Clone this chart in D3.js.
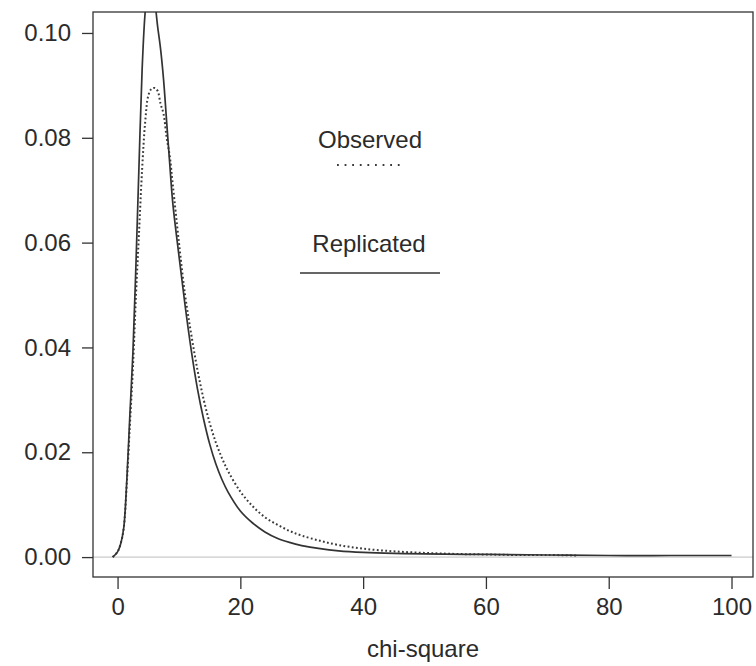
<!DOCTYPE html>
<html>
<head>
<meta charset="utf-8">
<script src="https://cdn.jsdelivr.net/npm/d3@7"></script>
<style>
  html, body { margin: 0; padding: 0; background: #fff; }
  svg { display: block; }
  text { font-family: "Liberation Sans", Arial, sans-serif; fill: #2b2b2b; }
</style>
</head>
<body>
<script>
// ---- data ----
const xTicks = [0, 20, 40, 60, 80, 100];
const yTicks = [0, 0.02, 0.04, 0.06, 0.08, 0.10];
const yTickLabels = ["0.00", "0.02", "0.04", "0.06", "0.08", "0.10"];
const xLabel = "chi-square";
const legendLabels = ["Observed", "Replicated"];

const replicatedX = [-0.8, 0, 0.5, 1, 1.5, 2, 2.5, 3, 3.5, 4, 4.5, 5, 5.5, 6, 6.5, 7, 7.5, 8, 8.5, 9, 10, 11, 12, 13, 14, 15, 16, 17, 18, 20, 22, 24, 26, 28, 30, 33, 36, 40, 45, 50, 60, 70, 80, 90, 100];
const replicatedY = [0, 0.001, 0.0025, 0.0055, 0.0145, 0.027, 0.039, 0.056, 0.075, 0.093, 0.104, 0.109, 0.111, 0.107, 0.1015, 0.097, 0.091, 0.083, 0.075, 0.0675, 0.0575, 0.048, 0.0395, 0.0322, 0.0264, 0.0216, 0.0178, 0.0148, 0.0124, 0.0088, 0.0065, 0.0048, 0.0036, 0.0028, 0.0022, 0.0016, 0.0012, 0.0009, 0.0007, 0.0006, 0.0005, 0.0004, 0.0003, 0.0003, 0.0003];

const observedX = [-0.8, 0, 0.5, 1, 1.5, 2, 2.5, 3, 3.5, 4, 4.5, 5, 5.5, 6, 6.5, 7, 7.5, 8, 8.5, 9, 10, 11, 12, 13, 14, 15, 16, 17, 18, 20, 22, 24, 26, 28, 30, 33, 36, 40, 45, 50, 55, 60, 65, 70, 75];
const observedY = [0, 0.001, 0.0025, 0.0055, 0.014, 0.025, 0.036, 0.050, 0.062, 0.074, 0.083, 0.088, 0.0893, 0.0895, 0.089, 0.0865, 0.0845, 0.080, 0.0765, 0.071, 0.060, 0.050, 0.0425, 0.0358, 0.0302, 0.0256, 0.0219, 0.0189, 0.0164, 0.0125, 0.0097, 0.0076, 0.0062, 0.0050, 0.0041, 0.0031, 0.0023, 0.0016, 0.0011, 0.0008, 0.0006, 0.0005, 0.0004, 0.0004, 0.0003];

// ---- layout ----
const W = 756, H = 666;
const box = { left: 93, right: 753, top: 12, bottom: 577 };

const x = d3.scaleLinear().domain([-4.0, 103.5]).range([box.left, box.right]);
const y = d3.scaleLinear().domain([-0.0038, 0.1040]).range([box.bottom, box.top]);

const svg = d3.select("body").append("svg").attr("width", W).attr("height", H);

svg.append("defs").append("clipPath").attr("id", "plotclip")
  .append("rect")
  .attr("x", box.left).attr("y", box.top)
  .attr("width", box.right - box.left).attr("height", box.bottom - box.top);

// zero reference line
svg.append("line")
  .attr("x1", box.left).attr("x2", box.right)
  .attr("y1", y(0)).attr("y2", y(0))
  .attr("stroke", "#bdbdbd").attr("stroke-width", 1);

const line = d3.line().x(d => x(d[0])).y(d => y(d[1])).curve(d3.curveCatmullRom.alpha(0.5));

const plot = svg.append("g").attr("clip-path", "url(#plotclip)");

plot.append("path")
  .datum(observedX.map((v, i) => [v, observedY[i]]))
  .attr("d", line)
  .attr("fill", "none")
  .attr("stroke", "#3a3a3a")
  .attr("stroke-width", 2)
  .attr("stroke-dasharray", "1.8,2.4");

plot.append("path")
  .datum(replicatedX.map((v, i) => [v, replicatedY[i]]))
  .attr("d", line)
  .attr("fill", "none")
  .attr("stroke", "#333")
  .attr("stroke-width", 1.7);

// box
svg.append("rect")
  .attr("x", box.left).attr("y", box.top)
  .attr("width", box.right - box.left).attr("height", box.bottom - box.top)
  .attr("fill", "none").attr("stroke", "#333").attr("stroke-width", 1.3);

// x axis (R style, ticks below box)
const xAxis = d3.axisBottom(x).tickValues(xTicks).tickSize(12).tickPadding(9).tickFormat(d3.format("d"));
const gx = svg.append("g").attr("transform", `translate(0,${box.bottom})`).call(xAxis);
gx.select(".domain").remove();
gx.selectAll(".tick line").attr("stroke", "#333").attr("stroke-width", 1.3);
gx.selectAll(".tick text").style("font-size", "24px").attr("fill", "#2b2b2b");

// y axis
const yAxis = d3.axisLeft(y).tickValues(yTicks).tickSize(11).tickPadding(11)
  .tickFormat((d, i) => yTickLabels[i]);
const gy = svg.append("g").attr("transform", `translate(${box.left},0)`).call(yAxis);
gy.select(".domain").remove();
gy.selectAll(".tick line").attr("stroke", "#333").attr("stroke-width", 1.3);
gy.selectAll(".tick text").style("font-size", "24px").attr("fill", "#2b2b2b");

// x label
svg.append("text")
  .attr("x", 423).attr("y", 657)
  .attr("text-anchor", "middle")
  .style("font-size", "24px")
  .text(xLabel);

// legend
svg.append("text")
  .attr("x", 370).attr("y", 148)
  .attr("text-anchor", "middle")
  .style("font-size", "24px")
  .text(legendLabels[0]);
svg.append("line")
  .attr("x1", 337).attr("x2", 400).attr("y1", 165).attr("y2", 165)
  .attr("stroke", "#3a3a3a").attr("stroke-width", 2).attr("stroke-dasharray", "1.8,5.8");

svg.append("text")
  .attr("x", 369).attr("y", 252)
  .attr("text-anchor", "middle")
  .style("font-size", "24px")
  .text(legendLabels[1]);
svg.append("line")
  .attr("x1", 300).attr("x2", 440).attr("y1", 273).attr("y2", 273)
  .attr("stroke", "#333").attr("stroke-width", 1.7);
</script>
</body>
</html>
